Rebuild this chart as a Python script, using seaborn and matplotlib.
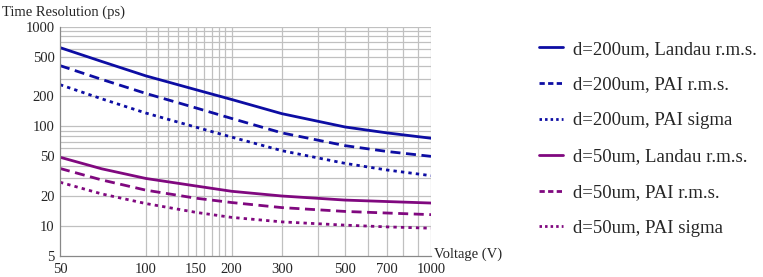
import matplotlib
matplotlib.use("Agg")
import matplotlib.pyplot as plt
import pandas as pd
import seaborn as sns

# values (voltage in V, resolution in ps)
voltage = [50, 70, 100, 150, 200, 300, 500, 700, 1000]
d200_landau_rms = [617, 448, 321, 233, 186, 134, 98.5, 86, 76]
d200_pai_rms = [407, 296, 214, 153, 120, 86, 64, 56, 50]
d200_pai_sigma = [262, 189, 136, 98, 78, 57, 42.5, 36.5, 32]
d50_landau_rms = [49, 37.5, 30, 25.2, 22.3, 20, 18.2, 17.6, 17]
d50_pai_rms = [37.8, 29, 22.9, 19, 17.2, 15.3, 14, 13.5, 13]
d50_pai_sigma = [27.5, 21, 16.8, 13.7, 12.2, 11, 10.2, 9.8, 9.5]

x_ticks = [50, 100, 150, 200, 300, 500, 700, 1000]
y_ticks = [5, 10, 20, 50, 100, 200, 500, 1000]

series = [
    ("d=200um, Landau r.m.s.", d200_landau_rms),
    ("d=200um, PAI r.m.s.", d200_pai_rms),
    ("d=200um, PAI sigma", d200_pai_sigma),
    ("d=50um, Landau r.m.s.", d50_landau_rms),
    ("d=50um, PAI r.m.s.", d50_pai_rms),
    ("d=50um, PAI sigma", d50_pai_sigma),
]
blue = "#0d0da3"
purple = "#80087f"
colors = [blue, blue, blue, purple, purple, purple]
dashes = [None, (3.6, 2.0), (1.2, 1.5)] * 2
legend_dashes = [None, (1.9, 1.2), (0.9, 1.1)] * 2

sns.set_style("white")
plt.rcParams["font.family"] = ["Liberation Serif", "DejaVu Serif"]

fig = plt.figure(figsize=(7.63, 2.77), dpi=100)
ax = fig.add_axes([60 / 763, 1 - 256 / 277, 371 / 763, 229.3 / 277])

for (label, vals), c, dsh in zip(series, colors, dashes):
    df = pd.DataFrame({"voltage": voltage, "res": vals})
    sns.lineplot(data=df, x="voltage", y="res", ax=ax, color=c, lw=2.0, label=label)
    if dsh is not None:
        ax.get_lines()[-1].set_dashes(dsh)

ax.set_xscale("log")
ax.set_yscale("log")
ax.set_xlim(50, 1000)
ax.set_ylim(5, 1000)

# grid lines like the original
vgrid = list(range(100, 201, 10)) + list(range(300, 1001, 100))
hgrid = list(range(10, 101, 10)) + list(range(200, 1001, 100))
for v in vgrid:
    ax.axvline(v, color="#c0c0c0", lw=0.9, zorder=0)
for h in hgrid:
    ax.axhline(h, color="#c0c0c0", lw=0.9, zorder=0)

ax.set_xticks(x_ticks)
ax.set_xticklabels([str(t) for t in x_ticks])
ax.set_yticks(y_ticks)
ax.set_yticklabels([str(t) for t in y_ticks])
ax.minorticks_off()
ax.tick_params(axis="x", which="major", direction="in", length=4, width=0.8,
               labelsize=10.5, color="#666666", pad=5)
ax.tick_params(axis="y", which="major", direction="in", length=4, width=0.8,
               labelsize=10.5, color="#666666", pad=4)
ax.set_xlabel("")
ax.set_ylabel("")
for s in ["top", "right"]:
    ax.spines[s].set_visible(False)
for s in ["left", "bottom"]:
    ax.spines[s].set_color("#888888")
    ax.spines[s].set_linewidth(0.9)

fig.text(2 / 763, 1 - 12 / 277, "Time Resolution (ps)", fontsize=10.5, va="center", ha="left")
fig.text(434 / 763, 1 - 254 / 277, "Voltage (V)", fontsize=10.5, va="center", ha="left")

leg = ax.legend(loc="upper left", bbox_to_anchor=(531 / 763, 1 - 33 / 277), bbox_transform=fig.transFigure,
                frameon=False, fontsize=13.5, handlelength=1.3, handletextpad=0.55, labelspacing=1.0,
                borderaxespad=0)
# shorter dash pattern in the legend keys, like the original
for h, dsh in zip(leg.get_lines(), legend_dashes):
    if dsh is not None:
        h.set_dashes(dsh)

plt.savefig("out.png", dpi=100)
